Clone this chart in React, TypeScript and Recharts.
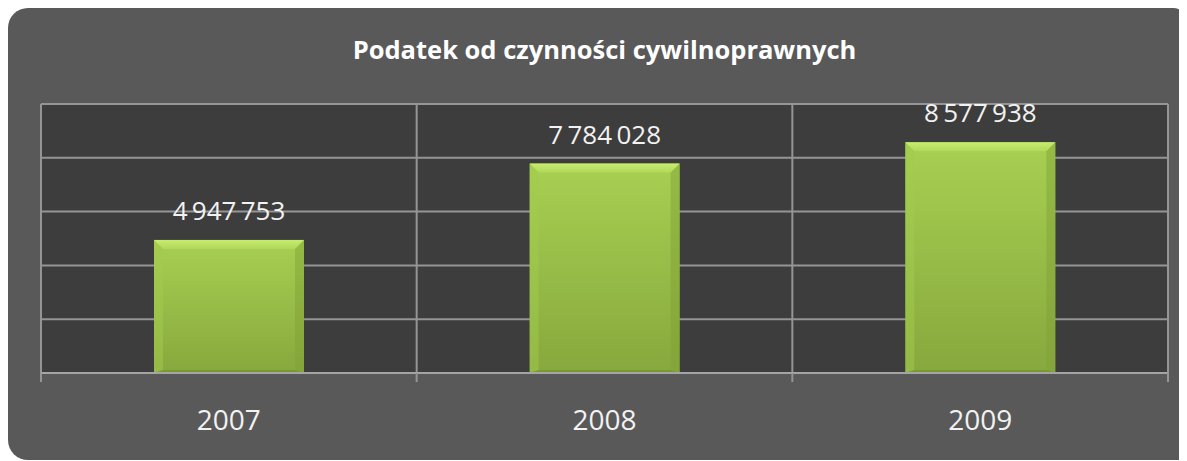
import { BarChart, Bar, XAxis, YAxis, CartesianGrid, LabelList } from "recharts";

const years = ["2007", "2008", "2009"];
const amounts = [4947753, 7784028, 8577938];
const yTicks = [0, 2000000, 4000000, 6000000, 8000000, 10000000];
const title = "Podatek od czynności cywilnoprawnych";

const data = years.map((year, i) => ({ year, value: amounts[i] }));

const fmt = (v: number) => String(v).replace(/\B(?=(\d{3})+(?!\d))/g, "\u2009");

const W = 1179;
const H = 452;
const MARGIN = { top: 96, right: 19, left: 33, bottom: 27 };
const BAND = (W - MARGIN.left - MARGIN.right) / years.length;
const GRID = "#959595";

// bevelled green bar, roughly like the office "bevel" effect
function BevelBar(props: any) {
  const { x, y, width, height } = props;
  if (!height || height <= 0) return null;
  const b = 9;
  return (
    <g>
      <rect x={x} y={y} width={width} height={height} fill="url(#barFill)" />
      <polygon
        points={`${x},${y} ${x + width},${y} ${x + width - b},${y + b} ${x + b},${y + b}`}
        fill="url(#bevelTop)"
      />
      <polygon
        points={`${x},${y} ${x + b},${y + b} ${x + b},${y + height - 3} ${x},${y + height}`}
        fill="#a2cb4d"
        opacity={0.5}
      />
      <polygon
        points={`${x + width},${y} ${x + width - b},${y + b} ${x + width - b},${y + height - 3} ${x + width},${y + height}`}
        fill="#7f9f36"
        opacity={0.45}
      />
      <polygon
        points={`${x},${y + height} ${x + b},${y + height - 3} ${x + width - b},${y + height - 3} ${x + width},${y + height}`}
        fill="#6f8d2c"
        opacity={0.6}
      />
    </g>
  );
}

// category label plus tick marks between categories (excel style)
function YearTick(props: any) {
  const { x, y, payload, index } = props;
  const half = BAND / 2;
  const marks = [x - half];
  if (index === years.length - 1) marks.push(x + half);
  return (
    <g>
      {marks.map((mx) => (
        <line key={mx} x1={mx} x2={mx} y1={y} y2={y + 9} stroke={GRID} strokeWidth={2} />
      ))}
      <text
        x={x}
        y={y + 37}
        dy="0.71em"
        textAnchor="middle"
        fill="#f2f2f2"
        fontSize={28}
      >
        {payload.value}
      </text>
    </g>
  );
}

// vertical grid lines sit between categories
const betweenCategories = ({ offset }: any) =>
  [0, ...years.map((_, i) => i + 1)].map((i) => offset.left + i * (offset.width / years.length));

export default function App() {
  return (
    <div
      style={{
        position: "relative",
        width: W,
        height: H,
        background: "#595959",
        borderRadius: "20px 14px 0 20px",
        fontFamily: "'Open Sans', sans-serif",
      }}
    >
      <div
        style={{
          position: "absolute",
          left: MARGIN.left,
          width: W - MARGIN.left - MARGIN.right,
          top: 25,
          textAlign: "center",
          color: "#ffffff",
          fontWeight: 700,
          fontSize: 25.5,
          lineHeight: "32px",
        }}
      >
        {title}
      </div>
      <BarChart width={W} height={H} data={data} margin={MARGIN} barSize={150}>
        <defs>
          <linearGradient id="barFill" x1="0" y1="0" x2="0" y2="1">
            <stop offset="0%" stopColor="#a8d052" />
            <stop offset="100%" stopColor="#87a83d" />
          </linearGradient>
          <linearGradient id="bevelTop" x1="0" y1="0" x2="0" y2="1">
            <stop offset="0%" stopColor="#c8ec70" />
            <stop offset="100%" stopColor="#b0d85a" />
          </linearGradient>
        </defs>
        <CartesianGrid
          fill="#3d3d3d"
          stroke={GRID}
          strokeWidth={2}
          fillOpacity={1}
          verticalCoordinatesGenerator={betweenCategories}
        />
        <XAxis
          dataKey="year"
          height={60}
          tickLine={false}
          axisLine={{ stroke: "#a5a5a5", strokeWidth: 2 }}
          tickSize={0}
          tickMargin={0}
          interval={0}
          tick={<YearTick />}
        />
        <YAxis hide domain={[0, 10000000]} ticks={yTicks} />
        <Bar dataKey="value" shape={<BevelBar />} isAnimationActive={false}>
          <LabelList
            dataKey="value"
            position="top"
            offset={20}
            formatter={(v: any) => fmt(Number(v))}
            fill="#f2f2f2"
            fontSize={26}
          />
        </Bar>
      </BarChart>
    </div>
  );
}
